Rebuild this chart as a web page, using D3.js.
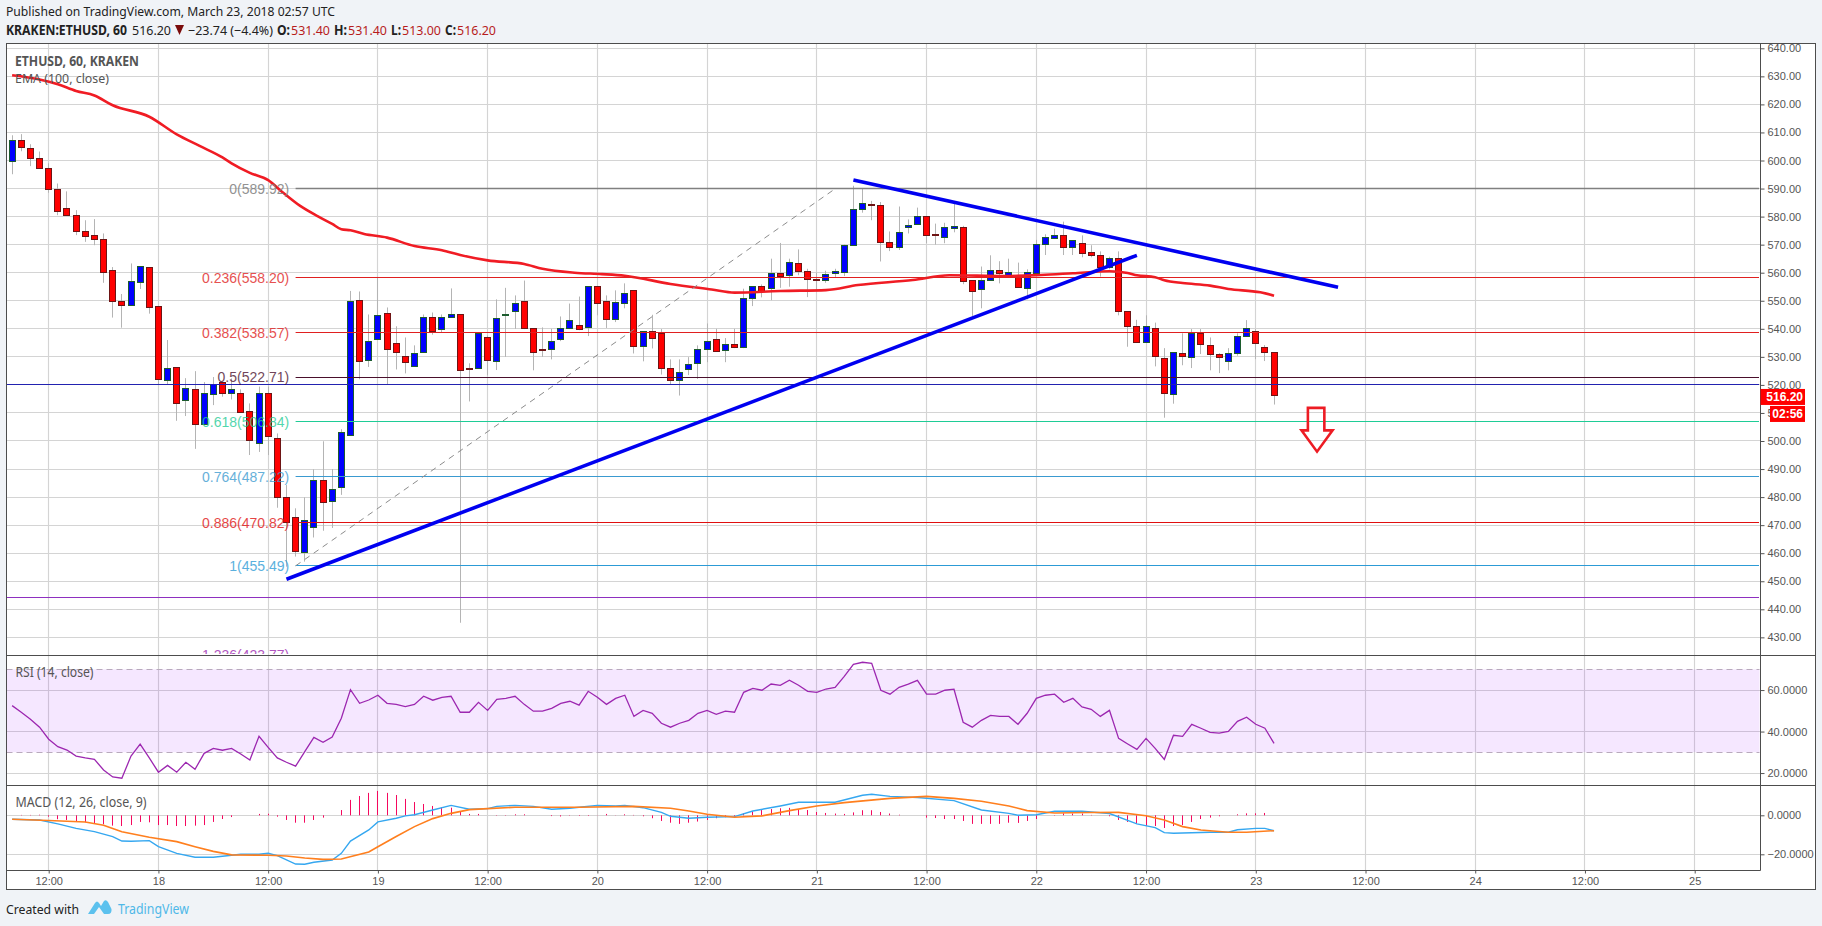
<!DOCTYPE html>
<html><head><meta charset="utf-8">
<script src="https://cdn.jsdelivr.net/npm/d3@7"></script>
<style>
html,body{margin:0;padding:0;background:#f0f3f7;overflow:hidden}
svg{display:block}
text{font-family:"Liberation Sans",Arial,sans-serif}
.hd{font-family:"Noto Sans",sans-serif}
</style></head><body><div id="chart"></div>
<script>
// ---------- data ----------
const candleStart = Date.UTC(2018,2,17,8);
const opens = [599.5,607.1,604.3,600.7,597.1,589.7,582.9,580.4,574.7,573.3,571.9,560.8,549.8,548.2,556.4,562,548,521.6,526.2,514.7,
518.4,505.8,516.6,520.9,516.9,517,510.6,499.2,517,501,479.9,472.8,460.2,469.1,486,478.7,483.4,501.9,550,528.5,
536,545.4,534.7,530,526.4,531.4,543.9,539.5,543.9,545,526,526,536.8,528.3,544.7,546,549.6,540,532.5,532.5,
536,539.9,541.1,540.3,555,549.6,543.1,548.9,553.6,533.5,538.9,538.5,525.7,521.4,525.3,527.4,532.4,536.1,532,534.3,
533.1,550.9,555,554.1,559.6,558.8,563.2,560.3,557.5,557.1,559.5,559.8,569.6,582.4,584.3,583.8,570.6,568.9,576.3,577,
579.9,573.5,572.4,575.5,576.1,557.2,553.9,557.1,560.8,559.1,558.9,554.2,559.6,570,572,573.2,568.8,570.4,567.2,566.1,
561.9,565,546.2,540.8,535.1,540.1,529.4,516.5,531.2,530,538.4,534,530.8,528.2,531.1,537.1,539,533.3,531.5];
const highs = [609,609.4,605.8,603.2,599,591.8,589,582.3,578.7,579.1,574,562,552.4,563.3,562.2,562,548,536,526.2,522.4,
524.9,521,522.8,520.9,522.3,518.4,513.4,519.4,519.4,502.7,484.3,476,479.9,489.9,499.9,490,504.2,553.5,553.3,545.1,
558.5,547.6,540.9,536.9,534.1,545.1,545.8,545.1,554.4,545,527.7,538.5,537.6,550.5,554.6,551.9,557.2,540,540.5,540,
544.4,549,551.5,555,555,551.9,553.7,556.2,553.6,539,545,539.9,529.1,529.1,529.9,534.1,541.9,540,536.7,540,
554.3,555,555.8,565,570.6,565,568.3,561.4,560,560.7,561.4,570,591,590.2,585.6,585.2,574.7,583.6,579,583.2,
579.9,577.5,577.8,584.5,576.7,557.2,562.2,566.2,564.1,565,563.6,561.2,571.7,573.7,575.7,578.2,571.4,573.3,569.8,567.6,
565.7,567.6,546.2,543.2,544.8,542.2,533.1,531.5,538.4,539.9,539.9,536.9,531.3,533.1,538.4,543.1,539.9,534.2,531.4];
const lows = [595.1,603.3,598,597,588.5,580.5,580.3,573.4,571,569.8,556.4,544,540.4,548.2,554.2,545.4,520,520,507.2,508.9,
497.2,505.8,512.8,515.8,514.8,510.1,495,496.1,495,476.2,455.2,458.8,457,465.6,468,469,480.8,501.9,522,526.4,
536,520.2,525.5,524.1,526.4,531.4,537.9,538.8,543.9,435.2,514.1,526,523.4,525.3,530,540,539.9,525.2,530,529.1,
535.6,539.9,539.5,537.4,544.8,540.3,542.4,547.3,531.2,528.4,533,523.7,520.2,516.2,523.5,522.1,528.1,532,528.1,533.1,
533.1,548.1,551.2,550.2,554.6,555,559.1,551.3,553.8,556.4,558.5,558.8,569.6,581.4,578.7,564,567.7,568.1,574,577,
570.5,570,570.5,574.4,555.9,544.6,547.3,557.1,556.2,558.3,554.6,550.5,559.6,566.3,572,566.3,566.3,565.5,565.5,558.6,
561.2,544.8,533.6,535,535.1,526.6,508.3,513.3,527,526,531,525.2,524.2,525.2,530.4,537.1,529.2,528.5,513];
const closes = [607.1,604.5,600.6,597,589.5,582,580.3,574.6,572.8,571.7,560,549.6,548.2,556.9,562.2,547.9,521.9,525.9,513.3,518.8,
505.8,517,520.2,516.9,518.4,510.3,500.1,517,501.5,479.8,471,460.6,471.7,486,478,482.8,503.1,549.8,528.1,535.4,
544.7,532.4,531.4,527.8,531.1,543.9,538.8,543.9,545,524.9,525.7,538.5,528.5,543.6,545,548.9,539.9,531.4,532.2,535.4,
540,542.9,539.5,555,548.8,543.1,549.3,552.5,533.5,539,536.3,526,521.4,524.3,527.2,532.5,535.4,532,534.3,533.1,
550.7,555,553.3,559.6,558.4,563.5,560.2,557.3,557.2,559.2,560.3,569.6,582.4,584.5,584.1,570.6,568.9,574.2,577,579.9,
573.1,573.1,576,576.3,556.7,553.2,557.2,560.8,559.6,560,554.6,560,570,572.5,573.2,568.8,571.4,567,566,562,
565,546,541,535,540.8,530,516.8,531.5,530,538.4,534.6,530.7,529.6,531.2,537.2,540.1,534.6,531.4,516.2];

const emaIdx = [0,3,5,7,9,11,15,18,20.5,23,24,26,28,29.5,31.5,33.5,35,36,37,38.5,41,44,47,49,52,56,58,61.5,64.5,67,72,76.5,79,84,89,92.5,98.5,102.5,108.5,112.5,116,120,122,123,125,126,128,131,133,136.5,138];
const emaVal = [630.4,628.9,627.2,624.8,623.2,619.7,615.6,609.3,605.2,601.1,599,595.6,593,588.9,583.8,580,577.4,575.5,575.1,573.8,572.5,569.5,568,566.3,564.4,563.1,561.4,560,559.5,558.9,556,554,552.9,553.5,553.8,555.6,557.4,559.1,558.8,559.2,559.8,560.5,559.9,559.1,558.4,557.3,556.3,555.4,554.2,553,551.8];

const rsi = [52.5,49.3,45.9,42.1,36.3,32.7,31.1,28.2,27.3,26.6,21.5,18.1,17.5,28.2,33.9,27.3,20.4,23.7,20.4,25.2,
21.8,29.5,31.9,31,31.9,29.2,26.3,37.7,32.4,27.3,25.2,23.3,30.3,37.2,34.8,37.4,46.4,60.2,53.6,55.2,
57.5,53.6,53.1,52,53.1,57,55.1,56.5,57,49.3,49.3,54.1,50.2,55.5,56,57,53.1,49.8,49.8,51.2,
53.6,54.6,52.7,59.4,56.5,53.1,56,57.5,47.3,50.2,48.8,44,42.1,44,45.4,48.8,50.2,48.3,49.8,49.3,
58.9,60.8,59.9,62.9,62.3,64.7,62.3,59.4,58.9,60.5,61.3,66.6,72.4,73.4,72.9,59.9,58,61.3,62.9,64.7,
58,58,59.9,60.4,44.5,42.1,45.4,47.8,47.3,47.3,43.5,48.8,56,57.5,58,54.1,56,51.9,50.7,47.3,
50.2,36.7,34,31.4,36.7,31.9,26.6,38.2,37.7,43.5,41.6,39.6,39.2,40.1,44.9,46.9,43.5,41.6,34.3];

const macdIdx = [0,3,5,7,9,11,12,13,15,16,18,20,22,25,27,28,29,31,32,33,35,36,37,39,40,42,43,44,46,48,50,52,53,55,57,59,61,62,64,66,67,69,71,72,74,76,79,81,84,86,90,93,94,96,99,103,106,109,110,112,114,117,120,123,125,126,127,131,133,134,136,137,138];
const macdVal = [-2.05,-2.4,-4.4,-6.7,-8.4,-10.9,-13.2,-13.3,-13,-16.1,-19.5,-21.5,-21.5,-20,-20,-19.5,-20.7,-25,-25.1,-24.1,-22.9,-19.5,-13.2,-7.5,-3.4,-1.5,-0.3,0.3,2.7,5.1,3.1,3.4,4.6,5.1,4.6,3.1,3.6,4.1,5.1,4.8,5.1,3.9,1.5,-0.5,-1.5,-1,-0.7,2.2,4.8,6.7,6.7,10.3,10.8,9.7,9.1,7.5,2.7,1,0,0.3,2.1,2.1,0.9,-4.4,-6.3,-8.9,-9.2,-8.7,-8.7,-7.4,-6.7,-6.7,-7.9];
const signalIdx = [0,4,8,10,12,15,18,20,22,24,28,30,32,34,36,39,40,42,44,46,48,50,52,55,62,68,72,74,76,79,82,85,88,91,96,100,103,106,109,111,114,118,121,124,126,128,130,133,135,138];
const signalVal = [-2.05,-2.7,-3.4,-5.1,-8.4,-11.3,-13.5,-16.1,-18.5,-20.3,-20.5,-20.9,-21.9,-22.6,-22.4,-18.8,-16.1,-10.9,-5.8,-1.7,1,2.9,3.4,4.1,4.1,4.6,3.6,2.2,0.5,-1,-0.3,2.4,4.8,6.5,8.7,9.7,8.7,7.2,4.8,2.4,1.2,1.4,1.5,-0.2,-2.4,-5.8,-7.5,-8.7,-8.7,-7.9];
const hist = [0,0.2,0.2,0.3,-0.7,-2,-2.4,-3.2,-3.6,-4.1,-4.6,-5.3,-5.5,-5,-3.4,-3.6,-5,-5,-5.5,-5.5,
-5.3,-5,-3.4,-1.9,-0.9,0,0,0.7,0.8,-0.7,-2.4,-3.8,-3.8,-2.4,-1.2,0,2.7,7.9,9.9,11.5,
12.5,11.5,10.4,8.4,6.8,5.8,4.8,4.1,3.9,1.9,0.7,0.7,0,-0.2,-0.2,0.5,0.5,0,0,-0.4,
-0.6,-0.2,-0.3,-0.3,-0.1,0.7,-0.1,0.5,0.2,-0.5,-1.5,-2.9,-3.8,-4.4,-3.8,-3.2,-2.4,-1.5,-1,-0.5,
1,2.1,2.7,3.2,3.6,3.8,3.1,2.7,1.7,1.2,0.9,0.7,1.5,2.6,2.6,1.7,0.9,0.3,0,0,
-1.2,-1.4,-1.9,-1.9,-2.9,-4.4,-4.4,-4.4,-4.4,-3.8,-3.9,-2.9,-1.9,0,-0.2,1,0.9,0.9,0.2,0,
-0.5,-2.4,-3.4,-4.4,-5.5,-5.5,-6.5,-5.5,-5,-3.4,-1.9,-1.2,-0.5,0,0.5,1,1,1.2,0];

const fibRatios = ["0","0.236","0.382","0.5","0.618","0.764","0.886","1","1.236"];
const fibPrices = [589.92,558.20,538.57,522.71,506.84,487.22,470.82,455.49,423.77];
const fibColors = ["#808080","#e02020","#e02020","#4a0f2c","#1fcc96","#3a9ad0","#e01010","#2c9bd6","#9c27b0"];
const hLinePrices = [520,444.2];
const hLineColors = ["#2222b0","#8e2fc0"];
const trendUpIdx = [30,123],   trendUpPrice = [450.7,566.2];
const trendDownIdx = [92,145], trendDownPrice = [593.05,554.8];
const fibDiagIdx = [31,90],    fibDiagPrice = [455.49,589.92];
const arrowIdx =   [141.7,143.5,143.5,144.4,142.7,141,141.7,141.7];
const arrowPrice = [511.8,511.8,503.8,503.8,496.2,503.8,503.8,511.8];
const priceTicks = d3.range(430,641,10);
const rsiTicks = [60,40,20];
const rsiBand = [70,30];
const macdTicks = [0,-20];
const timeTicks = [[17,12],[18,0],[18,12],[19,0],[19,12],[20,0],[20,12],[21,0],[21,12],[22,0],[22,12],[23,0],[23,12],[24,0],[24,12],[25,0]]
  .map(d=>new Date(Date.UTC(2018,2,d[0],d[1])));

// ---------- layout ----------
const W=1822,H=926;
const L=6.5,R=1815.5,AX=1760.5,T=43.5,S1=655.5,S2=785.5,B=870.5,OB=889.5;
const svg=d3.select("#chart").append("svg").attr("width",W).attr("height",H);
svg.append("rect").attr("width",W).attr("height",H).attr("fill","#f0f3f7");
svg.append("rect").attr("x",L).attr("y",T).attr("width",R-L).attr("height",OB-T).attr("fill","#fff");

const x=d3.scaleUtc().domain([timeTicks[0],timeTicks[15]]).range([48.7,1694.7]);
const at=i=>x(new Date(candleStart+i*3600e3));
const y=d3.scaleLinear().domain([640,440]).range([48.3,609.3]);
const yR=d3.scaleLinear().domain([70,30]).range([669.3,752.3]);
const yM=d3.scaleLinear().domain([0,-20]).range([815.3,854.3]);
const snap=v=>Math.round(v-0.5)+0.5;
const GRID="#d4d4d4";

const defs=svg.append("defs");
[["cMain",T,S1-1.5],["cRsi",S1,S2],["cMacd",S2,B]].forEach(c=>{
  defs.append("clipPath").attr("id",c[0]).append("rect").attr("x",L).attr("y",c[1]).attr("width",AX-L).attr("height",c[2]-c[1]);
});

// grid
const grid=svg.append("g");
grid.selectAll("line.v").data(timeTicks).join("line").attr("x1",d=>snap(x(d))).attr("x2",d=>snap(x(d))).attr("y1",T).attr("y2",B).attr("stroke",GRID).attr("stroke-width",1.15);
const hg=(vals,sc)=>grid.append("g").selectAll("line").data(vals).join("line").attr("x1",L).attr("x2",AX).attr("y1",d=>snap(sc(d))).attr("y2",d=>snap(sc(d))).attr("stroke",GRID).attr("stroke-width",1.15);
hg(priceTicks,y);hg(rsiTicks,yR);hg(macdTicks,yM);

// main pane
const main=svg.append("g").attr("clip-path","url(#cMain)");
const idx=d3.range(opens.length);
main.append("g").selectAll("line").data(idx).join("line")
  .attr("x1",i=>snap(at(i))).attr("x2",i=>snap(at(i))).attr("y1",i=>y(highs[i])).attr("y2",i=>y(lows[i])).attr("stroke","#b4b4b4");
main.append("g").selectAll("rect").data(idx).join("rect")
  .attr("x",i=>snap(at(i))-3).attr("width",6)
  .attr("y",i=>snap(y(Math.max(opens[i],closes[i]))))
  .attr("height",i=>Math.max(1,Math.round(Math.abs(y(opens[i])-y(closes[i])))))
  .attr("fill",i=>closes[i]>=opens[i]?"#0000ff":"#ff0000")
  .attr("stroke",i=>closes[i]>=opens[i]?"#1c5c2e":"#6e1414");

const ln=d3.line().x(d=>d[0]).y(d=>d[1]);
main.append("path").attr("d",ln.curve(d3.curveMonotoneX)(emaIdx.map((k,i)=>[at(k),y(emaVal[i])]))).attr("fill","none").attr("stroke","#f01c24").attr("stroke-width",2.6);
ln.curve(d3.curveLinear);

// drawings
hLinePrices.forEach((p,i)=>main.append("line").attr("x1",L).attr("x2",1759).attr("y1",snap(y(p))).attr("y2",snap(y(p))).attr("stroke",hLineColors[i]).attr("stroke-width",1));
const fibX=at(31);
fibPrices.forEach((p,i)=>{
  main.append("line").attr("x1",fibX).attr("x2",1759).attr("y1",snap(y(p))).attr("y2",snap(y(p))).attr("stroke",fibColors[i]).attr("stroke-width",i==0?1.3:1);
  main.append("text").attr("x",at(30.3)).attr("y",y(p)+5).attr("text-anchor","end").attr("font-size",14).attr("fill",fibColors[i]).attr("opacity",i==0?0.85:0.78).text(`${fibRatios[i]}(${p.toFixed(2)})`);
});
main.append("path").attr("d",ln(fibDiagIdx.map((k,i)=>[at(k),y(fibDiagPrice[i])]))).attr("stroke","#8c8c8c").attr("stroke-dasharray","6 5").attr("fill","none");
[[trendUpIdx,trendUpPrice],[trendDownIdx,trendDownPrice]].forEach(t=>
  main.append("path").attr("d",ln(t[0].map((k,i)=>[at(k),y(t[1][i])]))).attr("stroke","#0000f0").attr("stroke-width",3.6).attr("fill","none"));
main.append("path").attr("d",ln(arrowIdx.map((k,i)=>[at(k),y(arrowPrice[i])]))+"Z").attr("fill","none").attr("stroke","#ed1c24").attr("stroke-width",2.6);

// legends
svg.append("text").attr("x",15).attr("y",65.5).attr("font-size",14.5).attr("font-weight","bold").attr("fill","#555").attr("class","hd").attr("textLength",124).attr("lengthAdjust","spacingAndGlyphs").text("ETHUSD, 60, KRAKEN");
svg.append("text").attr("x",15).attr("y",82.5).attr("font-size",12.4).attr("fill","#555").attr("class","hd").attr("textLength",94).attr("lengthAdjust","spacingAndGlyphs").text("EMA (100, close)");

// RSI pane
const rg=svg.append("g").attr("clip-path","url(#cRsi)");
rg.append("rect").attr("x",L).attr("width",AX-1-L).attr("y",yR(rsiBand[0])).attr("height",yR(rsiBand[1])-yR(rsiBand[0])).attr("fill","#9915ff").attr("opacity",0.1);
rsiBand.forEach(v=>rg.append("line").attr("x1",L).attr("x2",AX-1).attr("y1",snap(yR(v))).attr("y2",snap(yR(v))).attr("stroke","#b9aabd").attr("stroke-dasharray","6 4"));
rg.append("path").attr("d",ln(rsi.map((v,i)=>[at(i),yR(v)]))).attr("fill","none").attr("stroke","#9c27b0").attr("stroke-width",1.3);
svg.append("text").attr("x",15.5).attr("y",677).attr("font-size",14.5).attr("fill","#555").attr("class","hd").attr("textLength",78).attr("lengthAdjust","spacingAndGlyphs").text("RSI (14, close)");

// MACD pane
const mg=svg.append("g").attr("clip-path","url(#cMacd)");
mg.append("g").selectAll("line").data(idx).join("line").attr("x1",i=>snap(at(i))).attr("x2",i=>snap(at(i)))
  .attr("y1",yM(0)).attr("y2",i=>yM(hist[i])).attr("stroke","#f5085e").attr("stroke-width",1);
mg.append("path").attr("d",ln(macdIdx.map((k,i)=>[at(k),yM(macdVal[i])]))).attr("fill","none").attr("stroke","#35a7f0").attr("stroke-width",1.4);
mg.append("path").attr("d",ln(signalIdx.map((k,i)=>[at(k),yM(signalVal[i])]))).attr("fill","none").attr("stroke","#ff7f1e").attr("stroke-width",1.6);
svg.append("text").attr("x",15.5).attr("y",807).attr("font-size",14.5).attr("fill","#555").attr("class","hd").attr("textLength",131).attr("lengthAdjust","spacingAndGlyphs").text("MACD (12, 26, close, 9)");

// axes
const styleAxis=g=>{g.select(".domain").remove();g.selectAll("line").attr("stroke","#555");g.selectAll("text").attr("fill","#555").attr("font-size",11).attr("font-family",'"Liberation Sans",Arial,sans-serif');};
svg.append("g").attr("transform",`translate(${AX},0)`).call(d3.axisRight(y).tickValues(priceTicks).tickFormat(d3.format(".2f")).tickSize(4).tickPadding(3)).call(styleAxis);
svg.append("g").attr("transform",`translate(${AX},0)`).call(d3.axisRight(yR).tickValues(rsiTicks).tickFormat(d3.format(".4f")).tickSize(4).tickPadding(3)).call(styleAxis);
svg.append("g").attr("transform",`translate(${AX},0)`).call(d3.axisRight(yM).tickValues(macdTicks).tickFormat(d3.format(".4f")).tickSize(4).tickPadding(3)).call(styleAxis);
svg.append("g").attr("transform",`translate(0,${B})`).call(d3.axisBottom(x).tickValues(timeTicks).tickFormat(d=>d.getUTCHours()==12?"12:00":String(d.getUTCDate())).tickSize(3).tickPadding(4)).call(styleAxis);

// frame
const fr=svg.append("g").attr("stroke","#4d4d4d").attr("fill","none");
fr.append("rect").attr("x",L).attr("y",T).attr("width",R-L).attr("height",OB-T);
fr.append("line").attr("x1",L).attr("x2",R).attr("y1",S1).attr("y2",S1);
fr.append("line").attr("x1",L).attr("x2",R).attr("y1",S2).attr("y2",S2);
fr.append("line").attr("x1",L).attr("x2",AX).attr("y1",B).attr("y2",B);
fr.append("line").attr("x1",AX).attr("x2",AX).attr("y1",T).attr("y2",B);

// last price tags
const lastClose=closes[closes.length-1], tagY=y(lastClose);
svg.append("rect").attr("x",AX).attr("y",tagY-6.6).attr("width",44.5).attr("height",16).attr("fill","#ff0000");
svg.append("text").attr("x",1803).attr("y",tagY+5.6).attr("text-anchor","end").attr("font-size",12).attr("font-weight","bold").attr("fill","#fff").text(lastClose.toFixed(2));
svg.append("rect").attr("x",1770).attr("y",tagY+10.4).attr("width",35).attr("height",16).attr("fill","#ff0000");
svg.append("text").attr("x",1803).attr("y",tagY+22.6).attr("text-anchor","end").attr("font-size",12).attr("font-weight","bold").attr("fill","#fff").text("02:56");

// header
const hdr=(tx,xx,yy,w,o={})=>svg.append("text").attr("class","hd").attr("x",xx).attr("y",yy).attr("font-size",13.4).attr("fill",o.c||"#222").attr("font-weight",o.b?"bold":"normal").attr("textLength",w).attr("lengthAdjust","spacingAndGlyphs").text(tx);
hdr("Published on TradingView.com, March 23, 2018 02:57 UTC",6,16,329);
const Y2=34.5;
hdr("KRAKEN:ETHUSD, 60",6,Y2,121,{b:1});
hdr("516.20",132,Y2,39);
svg.append("path").attr("d",d3.line()([[175,25],[184,25],[179.5,35]])+"Z").attr("fill","#7a0c0c");
hdr("−23.74 (−4.4%)",188,Y2,85);
[["O:",277,13,"531.40",291,39],["H:",334,13,"531.40",348,39],["L:",391,10,"513.00",402,39],["C:",445,11,"516.20",457,39]].forEach(d=>{
  hdr(d[0],d[1],Y2,d[2],{b:1});hdr(d[3],d[4],Y2,d[5],{c:"#b71c1c"});
});

// footer
hdr("Created with",6,914,73);
const logo=svg.append("g").attr("fill","#5cc1ee");
logo.append("path").attr("d","M88 914 L95 903 Q97 900 99 903 L101 906 L104 901 Q106 899 108 902 L111.5 909 Q112 914 108 914 L104 914 L99 907 L94 914 Z");
svg.append("text").attr("class","hd").attr("x",118).attr("y",914).attr("font-size",15).attr("fill","#4fb8e8").attr("textLength",71).attr("lengthAdjust","spacingAndGlyphs").text("TradingView");
</script></body></html>
